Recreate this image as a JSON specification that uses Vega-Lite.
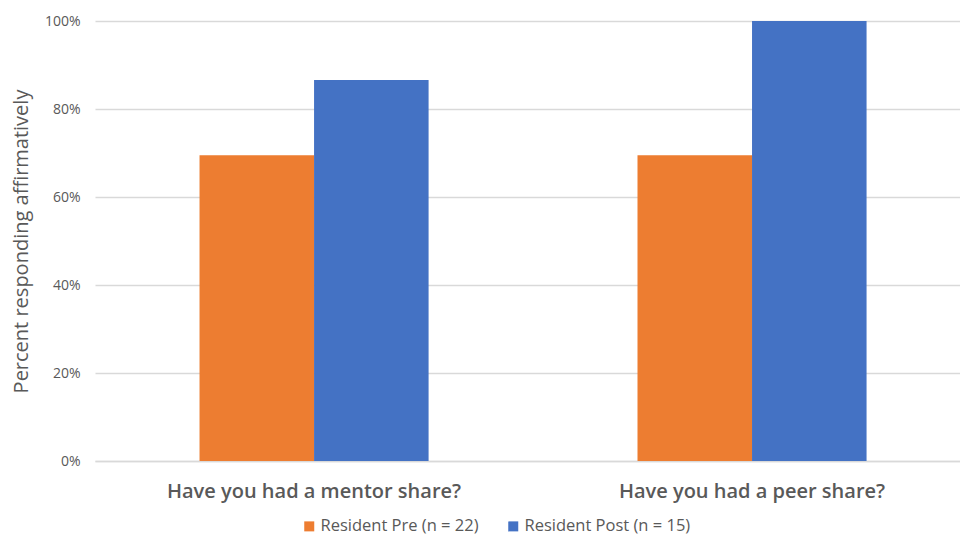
{
  "$schema": "https://vega.github.io/schema/vega-lite/v6.json",
  "autosize": "none",
  "width": 865,
  "height": 440,
  "padding": {"left": 95, "top": 21, "right": 0, "bottom": 76},
  "background": "white",
  "data": {
    "values": [
      {"question": "Have you had a mentor share?", "group": "Resident Pre (n = 22)", "pct": 0.695},
      {"question": "Have you had a mentor share?", "group": "Resident Post (n = 15)", "pct": 0.866},
      {"question": "Have you had a peer share?", "group": "Resident Pre (n = 22)", "pct": 0.695},
      {"question": "Have you had a peer share?", "group": "Resident Post (n = 15)", "pct": 1.0}
    ]
  },
  "config": {
    "view": {"stroke": null},
    "font": "Open Sans"
  },
  "mark": {"type": "bar"},
  "encoding": {
    "x": {
      "field": "question",
      "type": "nominal",
      "sort": null,
      "scale": {"paddingInner": 0.477, "paddingOuter": 0.226, "align": 0.528},
      "axis": {
        "title": null,
        "labelAngle": 0,
        "ticks": false,
        "domainColor": "#D9D9D9",
        "domainWidth": 1.5,
        "labelFontSize": 20,
        "labelFontWeight": 600,
        "labelColor": "#595959",
        "labelPadding": 20,
        "labelLimit": 600
      }
    },
    "xOffset": {
      "field": "group",
      "type": "nominal",
      "sort": ["Resident Pre (n = 22)", "Resident Post (n = 15)"],
      "scale": {"paddingInner": 0, "paddingOuter": 0}
    },
    "y": {
      "field": "pct",
      "type": "quantitative",
      "scale": {"domain": [0, 1], "nice": false},
      "axis": {
        "title": "Percent responding affirmatively",
        "titleFontSize": 20,
        "titleFontWeight": "normal",
        "titleColor": "#595959",
        "titlePadding": 13,
        "format": ".0%",
        "values": [0, 0.2, 0.4, 0.6, 0.8, 1],
        "domain": false,
        "ticks": false,
        "labelFontSize": 14,
        "labelColor": "#595959",
        "labelPadding": 15,
        "gridColor": "#D9D9D9",
        "gridWidth": 1.5
      }
    },
    "color": {
      "field": "group",
      "type": "nominal",
      "sort": ["Resident Pre (n = 22)", "Resident Post (n = 15)"],
      "scale": {"range": ["#ED7D31", "#4472C4"]},
      "legend": {
        "title": null,
        "orient": "none",
        "direction": "horizontal",
        "legendX": 206,
        "legendY": 497,
        "symbolType": "square",
        "symbolSize": 100,
        "symbolStrokeWidth": 0,
        "labelFontSize": 16.5,
        "labelColor": "#595959",
        "labelOffset": 3,
        "columnPadding": 26,
        "labelLimit": 300
      }
    }
  }
}
